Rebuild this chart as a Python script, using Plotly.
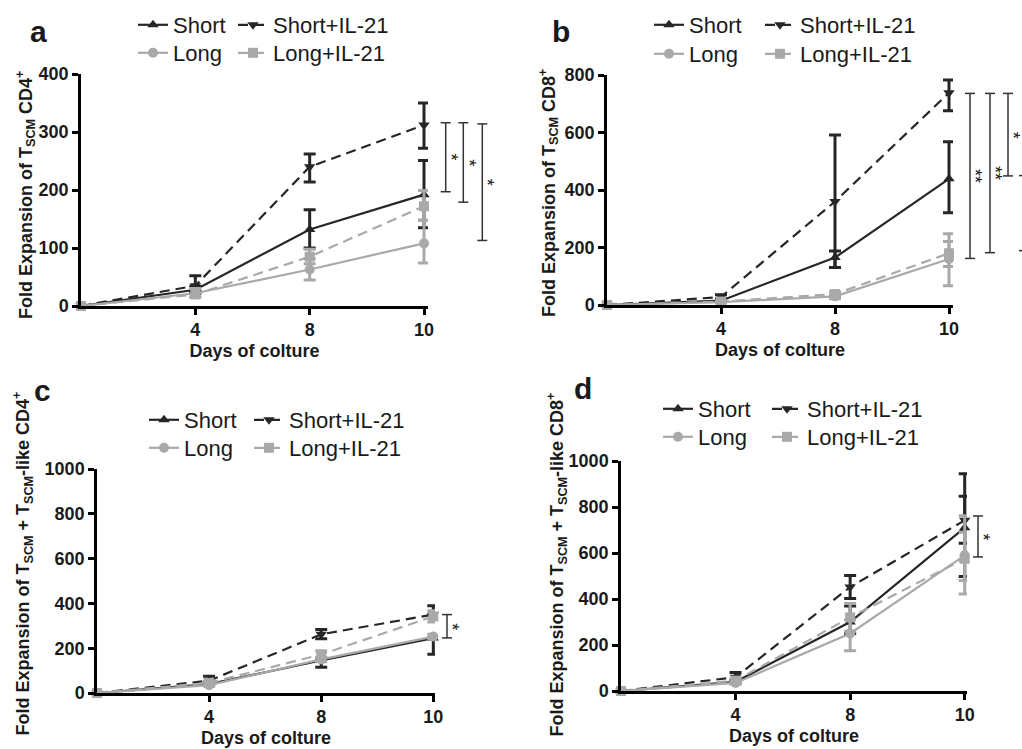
import plotly.graph_objects as go

W, H = 1022, 749

# ---------------- data ----------------
days = ["0", "4", "8", "10"]
tick_days = ["4", "8", "10"]
series = ["Short", "Short+IL-21", "Long", "Long+IL-21"]

# Panel a: T_SCM CD4+
a_short = [0, 28, 132, 192]
a_short_up = [0, 6, 34, 59]
a_short_dn = [0, 6, 32, 57]
a_shortil = [0, 35, 240, 312]
a_shortil_up = [0, 17, 22, 38]
a_shortil_dn = [0, 10, 26, 40]
a_long = [0, 22, 63, 108]
a_long_up = [0, 8, 19, 40]
a_long_dn = [0, 6, 18, 34]
a_longil = [0, 20, 85, 172]
a_longil_up = [0, 10, 13, 27]
a_longil_dn = [0, 5, 12, 24]

# Panel b: T_SCM CD8+
b_short = [0, 15, 165, 439]
b_short_up = [0, 5, 23, 129]
b_short_dn = [0, 5, 35, 118]
b_shortil = [0, 28, 360, 738]
b_shortil_up = [0, 8, 231, 45]
b_shortil_dn = [0, 8, 230, 62]
b_long = [0, 10, 30, 160]
b_long_up = [0, 3, 8, 61]
b_long_dn = [0, 3, 8, 93]
b_longil = [0, 12, 38, 180]
b_longil_up = [0, 3, 8, 68]
b_longil_dn = [0, 3, 8, 46]

# Panel c: T_SCM + T_SCM-like CD4+
c_short = [0, 40, 145, 245]
c_short_up = [0, 5, 10, 0]
c_short_dn = [0, 5, 30, 72]
c_shortil = [0, 55, 262, 350]
c_shortil_up = [0, 20, 22, 40]
c_shortil_dn = [0, 10, 20, 0]
c_long = [0, 35, 150, 252]
c_long_up = [0, 5, 10, 10]
c_long_dn = [0, 5, 10, 10]
c_longil = [0, 45, 172, 342]
c_longil_up = [0, 8, 15, 25]
c_longil_dn = [0, 8, 15, 25]

# Panel d: T_SCM + T_SCM-like CD8+
d_short = [0, 40, 300, 710]
d_short_up = [0, 5, 70, 235]
d_short_dn = [0, 5, 50, 212]
d_shortil = [0, 60, 452, 742]
d_shortil_up = [0, 20, 50, 105]
d_shortil_dn = [0, 15, 50, 100]
d_long = [0, 35, 250, 590]
d_long_up = [0, 5, 60, 172]
d_long_dn = [0, 5, 75, 168]
d_longil = [0, 45, 320, 575]
d_longil_up = [0, 10, 60, 115]
d_longil_dn = [0, 10, 60, 95]

# significance brackets: top value, bottom value, label
a_sig_top = [316, 316, 314]
a_sig_bot = [197, 179, 113]
a_sig_lab = ["*", "*", "*"]
b_sig_top = [736, 736, 736, 450]
b_sig_bot = [162, 182, 449, 189]
b_sig_lab = ["**", "**", "*", ""]
c_sig_top = [350]
c_sig_bot = [246]
c_sig_lab = ["*"]
d_sig_top = [761]
d_sig_bot = [583]
d_sig_lab = ["*"]

# ---------------- styles / layout ----------------
FONT = "Liberation Sans, Arial, sans-serif"
DARK = "#262626"
GREY = "#a9a9a9"
TXT = "#1a1a1a"
styles = {
    "Short": dict(color=DARK, dash="solid", symbol="triangle-up"),
    "Short+IL-21": dict(color=DARK, dash="10px,6px", symbol="triangle-down"),
    "Long": dict(color=GREY, dash="solid", symbol="circle"),
    "Long+IL-21": dict(color=GREY, dash="10px,6px", symbol="square"),
}

panels = [
    dict(letter="a", n="", xpx=(81, 428), ypx=(74, 306), rng=3.035, ymax=400, dtick=100,
         title="Fold Expansion of T<sub>SCM</sub> CD4<sup>+</sup>", tpos=(25.5, 195.5),
         data=[(a_short, a_short_up, a_short_dn), (a_shortil, a_shortil_up, a_shortil_dn),
               (a_long, a_long_up, a_long_dn), (a_longil, a_longil_up, a_longil_dn)],
         sig=(a_sig_top, a_sig_bot, a_sig_lab), sigx=[445.7, 463.3, 482.3],
         leg=(133, 233, 25, 53), letpos=(38, 32)),
    dict(letter="b", n="2", xpx=(607, 953), ypx=(75, 305), rng=3.035, ymax=800, dtick=200,
         title="Fold Expansion of T<sub>SCM</sub> CD8<sup>+</sup>", tpos=(548.5, 193.5),
         data=[(b_short, b_short_up, b_short_dn), (b_shortil, b_shortil_up, b_shortil_dn),
               (b_long, b_long_up, b_long_dn), (b_longil, b_longil_up, b_longil_dn)],
         sig=(b_sig_top, b_sig_bot, b_sig_lab), sigx=[970, 990, 1008, 1024],
         leg=(649, 760, 25, 54), letpos=(561, 32)),
    dict(letter="c", n="3", xpx=(97, 435), ypx=(469, 693), rng=3.015, ymax=1000, dtick=200,
         title="Fold Expansion of T<sub>SCM</sub> + T<sub>SCM</sub>-like CD4<sup>+</sup>",
         tpos=(22.5, 564),
         data=[(c_short, c_short_up, c_short_dn), (c_shortil, c_shortil_up, c_shortil_dn),
               (c_long, c_long_up, c_long_dn), (c_longil, c_longil_up, c_longil_dn)],
         sig=(c_sig_top, c_sig_bot, c_sig_lab), sigx=[447],
         leg=(144, 249, 420, 448), letpos=(42, 390)),
    dict(letter="d", n="4", xpx=(621, 967), ypx=(461, 691), rng=3.02, ymax=1000, dtick=200,
         title="Fold Expansion of T<sub>SCM</sub> + T<sub>SCM</sub>-like CD8<sup>+</sup>",
         tpos=(556.5, 565),
         data=[(d_short, d_short_up, d_short_dn), (d_shortil, d_shortil_up, d_shortil_dn),
               (d_long, d_long_up, d_long_dn), (d_longil, d_longil_up, d_longil_dn)],
         sig=(d_sig_top, d_sig_bot, d_sig_lab), sigx=[978],
         leg=(658, 767, 409, 437), letpos=(583, 388)),
]

LEG_TOP_TO_CENTER = 21  # px from legend box top to row centre

fig = go.Figure()
layout = dict(
    width=W, height=H, margin=dict(l=0, r=0, t=0, b=0, autoexpand=False),
    paper_bgcolor="white", plot_bgcolor="white",
    font=dict(family=FONT, color=TXT),
    showlegend=True,
)
annotations = []
shapes = []

for pi, p in enumerate(panels):
    xa = "x" + p["n"]
    ya = "y" + p["n"]
    x0, x1 = p["xpx"]
    ytop, ybot = p["ypx"]
    lx1, lx2, ly1, ly2 = p["leg"]
    leg1 = "legend" if pi == 0 else f"legend{2 * pi + 1}"
    leg2 = f"legend{2 * pi + 2}"
    for si, name in enumerate(series):
        vals, up, dn = p["data"][si]
        st = styles[name]
        extra = {}
        if si in (0, 2):
            extra["legendwidth"] = lx2 - lx1 - 45
        fig.add_trace(go.Scatter(
            x=days, y=vals, name=name, mode="lines+markers",
            xaxis=xa, yaxis=ya, cliponaxis=False,
            legend=leg1 if si < 2 else leg2,
            line=dict(color=st["color"], width=2.2, dash=st["dash"]),
            marker=dict(symbol=st["symbol"], size=10, color=st["color"]),
            error_y=dict(type="data", symmetric=False, array=up, arrayminus=dn,
                         color=st["color"], thickness=3, width=6),
            **extra,
        ))
    axkey_x = "xaxis" + p["n"]
    axkey_y = "yaxis" + p["n"]
    layout[axkey_x] = dict(
        domain=[x0 / W, x1 / W], anchor=ya, type="category", automargin=False,
        range=[0, p["rng"]], tickmode="array", tickvals=tick_days, ticktext=tick_days,
        showline=True, linecolor="black", linewidth=2.5,
        ticks="outside", ticklen=6, tickwidth=2.5, tickcolor="black",
        showgrid=False, zeroline=False,
        tickfont=dict(size=18, family=FONT, color=TXT, weight="bold"),
        title=dict(text="Days of colture", standoff=6,
                   font=dict(size=18, family=FONT, color=TXT, weight="bold")),
    )
    layout[axkey_y] = dict(
        domain=[1 - ybot / H, 1 - ytop / H], anchor=xa, automargin=False,
        range=[0, p["ymax"]], dtick=p["dtick"], tick0=0,
        showline=True, linecolor="black", linewidth=2.5,
        ticks="outside", ticklen=6, tickwidth=2.5, tickcolor="black",
        showgrid=False, zeroline=False,
        tickfont=dict(size=18, family=FONT, color=TXT, weight="bold"),
    )
    # y-axis title (placed as rotated text)
    annotations.append(dict(
        text=p["title"], xref="paper", yref="paper",
        x=p["tpos"][0] / W, y=1 - p["tpos"][1] / H, textangle=-90,
        xanchor="center", yanchor="middle", showarrow=False,
        font=dict(size=18, family=FONT, color=TXT, weight="bold"),
    ))
    # legends (one per row)
    for lk, ly in ((leg1, ly1), (leg2, ly2)):
        layout[lk] = dict(
            orientation="h", x=lx1 / W, xanchor="left",
            y=1 - (ly - LEG_TOP_TO_CENTER) / H, yanchor="top",
            font=dict(size=22, family=FONT, color=TXT),
            bgcolor="rgba(0,0,0,0)", borderwidth=0, itemwidth=30,
        )
    # panel letter
    annotations.append(dict(
        text=p["letter"], xref="paper", yref="paper",
        x=p["letpos"][0] / W, y=1 - p["letpos"][1] / H,
        xanchor="center", yanchor="middle", showarrow=False,
        font=dict(size=30, family=FONT, color=TXT, weight="bold"),
    ))
    # significance brackets
    tops, bots, labs = p["sig"]
    for bx, t, b, lab in zip(p["sigx"], tops, bots, labs):
        fx = (bx - x0) / (x1 - x0)
        cap = 5 / (x1 - x0)
        ln = dict(color="#333333", width=1.5)
        shapes.append(dict(type="line", xref=f"{xa} domain", yref=ya,
                           x0=fx, x1=fx, y0=b, y1=t, line=ln))
        for yy in (t, b):
            shapes.append(dict(type="line", xref=f"{xa} domain", yref=ya,
                               x0=fx - cap, x1=fx + cap, y0=yy, y1=yy, line=ln))
        if lab:
            annotations.append(dict(
                text=lab, xref=f"{xa} domain", yref=ya,
                x=fx + 5 / (x1 - x0), y=(t + b) / 2, textangle=90,
                xanchor="center", yanchor="middle", showarrow=False,
                font=dict(size=18, family=FONT, color=TXT),
            ))

layout["annotations"] = annotations
layout["shapes"] = shapes
fig.update_layout(**layout)
fig.write_html("out.html")
